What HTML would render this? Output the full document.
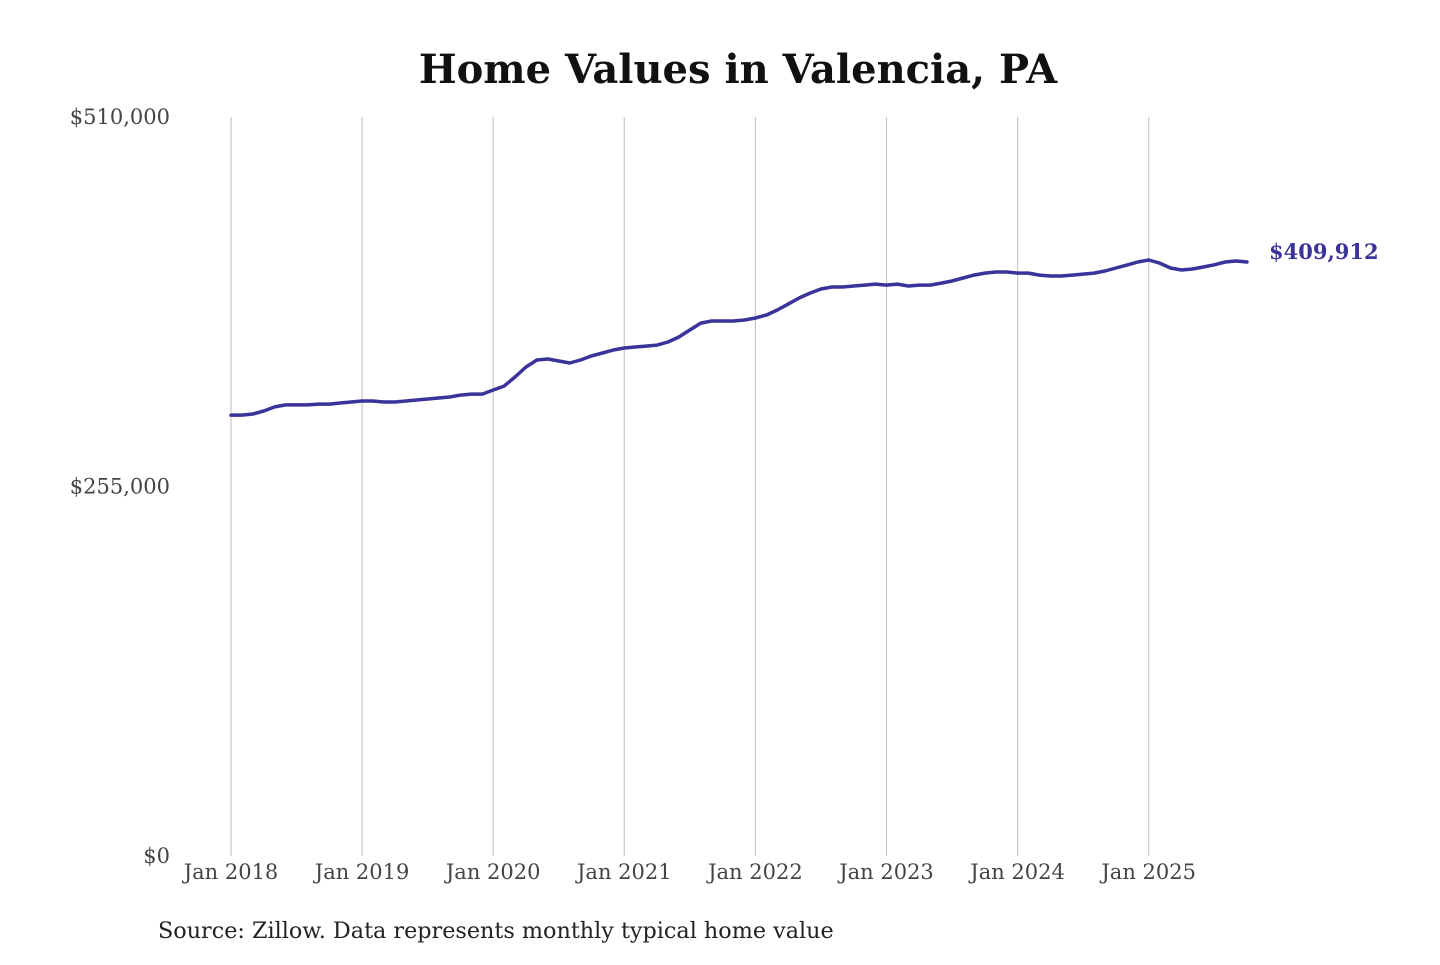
<!DOCTYPE html>
<html><head><meta charset="utf-8">
<style>
html,body{margin:0;padding:0;background:#fff;}
body{width:1440px;height:960px;overflow:hidden;}
svg text{font-family:"DejaVu Serif","Liberation Serif",serif;}
</style></head>
<body>
<svg id="chart" width="1440" height="960" xmlns="http://www.w3.org/2000/svg">
<text x="738" y="83" text-anchor="middle" font-size="40" font-weight="bold" fill="#111">Home Values in Valencia, PA</text>
<g id="grid"></g>
<g id="yticks"></g>
<g id="xticks"></g>
<g id="series"></g>
<text x="158" y="938" font-size="22.3" fill="#222">Source: Zillow. Data represents monthly typical home value</text>
</svg>
<script>
const xTickLabels = ["Jan 2018","Jan 2019","Jan 2020","Jan 2021","Jan 2022","Jan 2023","Jan 2024","Jan 2025"];
const yTickValues = [0, 255000, 510000];
const yTickLabels = ["$0","$255,000","$510,000"];
const values = [
304.3,304.3,305.0,307.1,309.9,311.3,311.3,311.3,311.9,311.9,312.6,313.3,
314.0,314.0,313.3,313.3,314.0,314.7,315.4,316.1,316.8,318.1,318.8,318.8,
321.6,324.3,330.6,337.5,342.3,343.0,341.6,340.2,342.3,345.1,347.1,349.2,
350.6,351.3,351.9,352.6,354.7,358.2,363.0,367.8,369.2,369.2,369.2,369.9,
371.3,373.3,376.8,380.9,385.1,388.5,391.3,392.7,392.7,393.4,394.0,394.7,
394.0,394.7,393.4,394.0,394.0,395.4,396.8,398.9,400.9,402.3,403.0,403.0,
402.3,402.3,400.9,400.3,400.3,400.9,401.6,402.3,403.7,405.8,407.8,409.9,
411.3,409.2,405.8,404.4,405.1,406.5,408.0,409.9,410.6,409.912
];
const lastLabel = "$409,912";

const NS="http://www.w3.org/2000/svg";
const x0=231, pxPerMonth=131.1/12;
const yTop=117, yBot=856, yMax=510000;
const xScale = m => x0 + m*pxPerMonth;
const yScale = v => yBot - (v/yMax)*(yBot-yTop);
function mk(tag, attrs, parent){const e=document.createElementNS(NS,tag);for(const k in attrs)e.setAttribute(k,attrs[k]);parent.appendChild(e);return e;}

const grid=document.getElementById('grid'), xt=document.getElementById('xticks'), yt=document.getElementById('yticks'), ser=document.getElementById('series');
xTickLabels.forEach((lab,i)=>{
  const x=xScale(i*12);
  const l=mk('line',{x1:x,x2:x,y1:yTop,y2:yBot,stroke:'#c8c8c8','stroke-width':1.2},grid);
  
  
  const t=mk('text',{x:x,y:879,'text-anchor':'middle','font-size':21,fill:'#444'},xt);
  t.textContent=lab;
  
  
});
yTickValues.forEach((v,i)=>{
  const t=mk('text',{x:170,y:yScale(v)+7,'text-anchor':'end','font-size':21,fill:'#444'},yt);
  t.textContent=yTickLabels[i];
  
  
});
const d=values.map((v,i)=>(i?'L':'M')+xScale(i).toFixed(1)+' '+yScale(v*1000).toFixed(1)).join(' ');
const p=mk('path',{d:d,fill:'none',stroke:'#3a3399','stroke-width':3.5,'stroke-linejoin':'round','stroke-linecap':'round'},ser);


const li=values.length-1;
const lt=mk('text',{x:xScale(li)+22,y:yScale(values[li]*1000)-3,'font-size':21,'font-weight':'bold',fill:'#3a3399'},ser);
lt.textContent=lastLabel;


</script>
</body></html>
